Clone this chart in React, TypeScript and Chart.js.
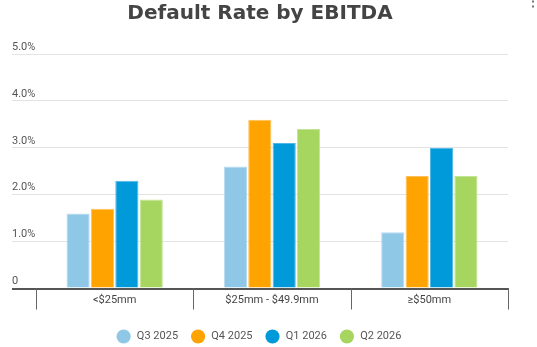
import React, { useEffect, useRef } from "react";
import { Chart, registerables } from "chart.js";

Chart.register(...registerables);

const title = "Default Rate by EBITDA";
const categories = ["<$25mm", "$25mm - $49.9mm", "≥$50mm"];
const seriesNames = ["Q3 2025", "Q4 2025", "Q1 2026", "Q2 2026"];
const q3_2025 = [1.6, 2.6, 1.2];
const q4_2025 = [1.7, 3.6, 2.4];
const q1_2026 = [2.3, 3.1, 3.0];
const q2_2026 = [1.9, 3.4, 2.4];
const colors = ["#8FC7E7", "#FFA300", "#009ADA", "#A6D660"];
const borderColors = ["#B5DAF0", "#FFC25A", "#4DB8E6", "#C4E495"];
const yTicks = [0, 1, 2, 3, 4, 5];

const extras = {
  id: "extras",
  afterDraw(chart: any) {
    const ctx = chart.ctx;
    const x = chart.scales.x;
    ctx.save();
    // category dividers
    ctx.strokeStyle = "#666";
    ctx.lineWidth = 1;
    for (let i = 0; i <= categories.length; i++) {
      const px = Math.round(x.getPixelForValue(i - 0.5)) + 0.5;
      ctx.beginPath();
      ctx.moveTo(px, x.top);
      ctx.lineTo(px, x.top + 21);
      ctx.stroke();
    }
    // menu dots
    ctx.fillStyle = "#777";
    [1.5, 6.5].forEach((y) => {
      ctx.fillRect(532, y - 1, 2, 2);
    });
    ctx.restore();
  },
};

export default function App() {
  const ref = useRef<HTMLCanvasElement>(null);
  useEffect(() => {
    document.body.style.margin = "0";
    const values = [q3_2025, q4_2025, q1_2026, q2_2026];
    const chart = new Chart(ref.current!, {
      type: "bar",
      data: {
        labels: categories,
        datasets: seriesNames.map((name, i) => ({
          label: name,
          data: values[i],
          backgroundColor: colors[i],
          borderColor: borderColors[i],
          borderWidth: 1,
          categoryPercentage: 0.62,
          barPercentage: 0.95,
        })),
      },
      options: {
        animation: false,
        responsive: false,
        layout: { padding: { left: 12, right: 29, top: 0, bottom: -5 } },
        plugins: {
          title: {
            display: true,
            text: title,
            color: "#444",
            font: { family: "DejaVu Sans", size: 20, weight: "bold" },
            padding: { top: 2, bottom: 28 },
          },
          legend: {
            position: "bottom",
            labels: {
              usePointStyle: true,
              pointStyle: "circle",
              boxWidth: 10,
              boxHeight: 10,
              padding: 15,
              color: "#555",
              font: { family: "Roboto", size: 11 },
              generateLabels(chart: any) {
                const items = Chart.defaults.plugins.legend.labels.generateLabels(chart);
                return items.map((it: any, i: number) => ({
                  ...it,
                  text: " " + it.text,
                  fillStyle: colors[i],
                  strokeStyle: colors[i],
                  lineWidth: 0,
                }));
              },
            },
          },
          tooltip: { enabled: false },
        },
        scales: {
          x: {
            afterFit(scale: any) {
              scale.height = 27.5;
            },
            grid: {
              drawOnChartArea: false,
              drawTicks: false,
            },
            border: { display: true, color: "#555", width: 2 },
            ticks: {
              color: "#444",
              font: { family: "Roboto", size: 11 },
              padding: 5,
              maxRotation: 0,
              autoSkip: false,
            },
          },
          y: {
            min: 0,
            max: 5,
            afterFit(scale: any) {
              scale.width = 24;
            },
            afterBuildTicks(scale: any) {
              scale.ticks = yTicks.map((v) => ({ value: v }));
            },
            grid: {
              color: (c: any) => (c.tick && c.tick.value === 0 ? "#555" : "#E3E3E3"),
              lineWidth: (c: any) => (c.tick && c.tick.value === 0 ? 2 : 1),
              tickLength: 24,
              drawTicks: true,
            },
            border: { display: false },
            ticks: {
              crossAlign: "far",
              labelOffset: -7,
              padding: 0,
              color: "#555",
              font: { family: "Roboto", size: 11 },
              callback: (v: any) => (v === 0 ? "0" : Number(v).toFixed(1) + "%"),
            },
          },
        },
      },
      plugins: [extras],
    });
    return () => chart.destroy();
  }, []);
  return <canvas ref={ref} width={537} height={347} style={{ display: "block" }} />;
}
